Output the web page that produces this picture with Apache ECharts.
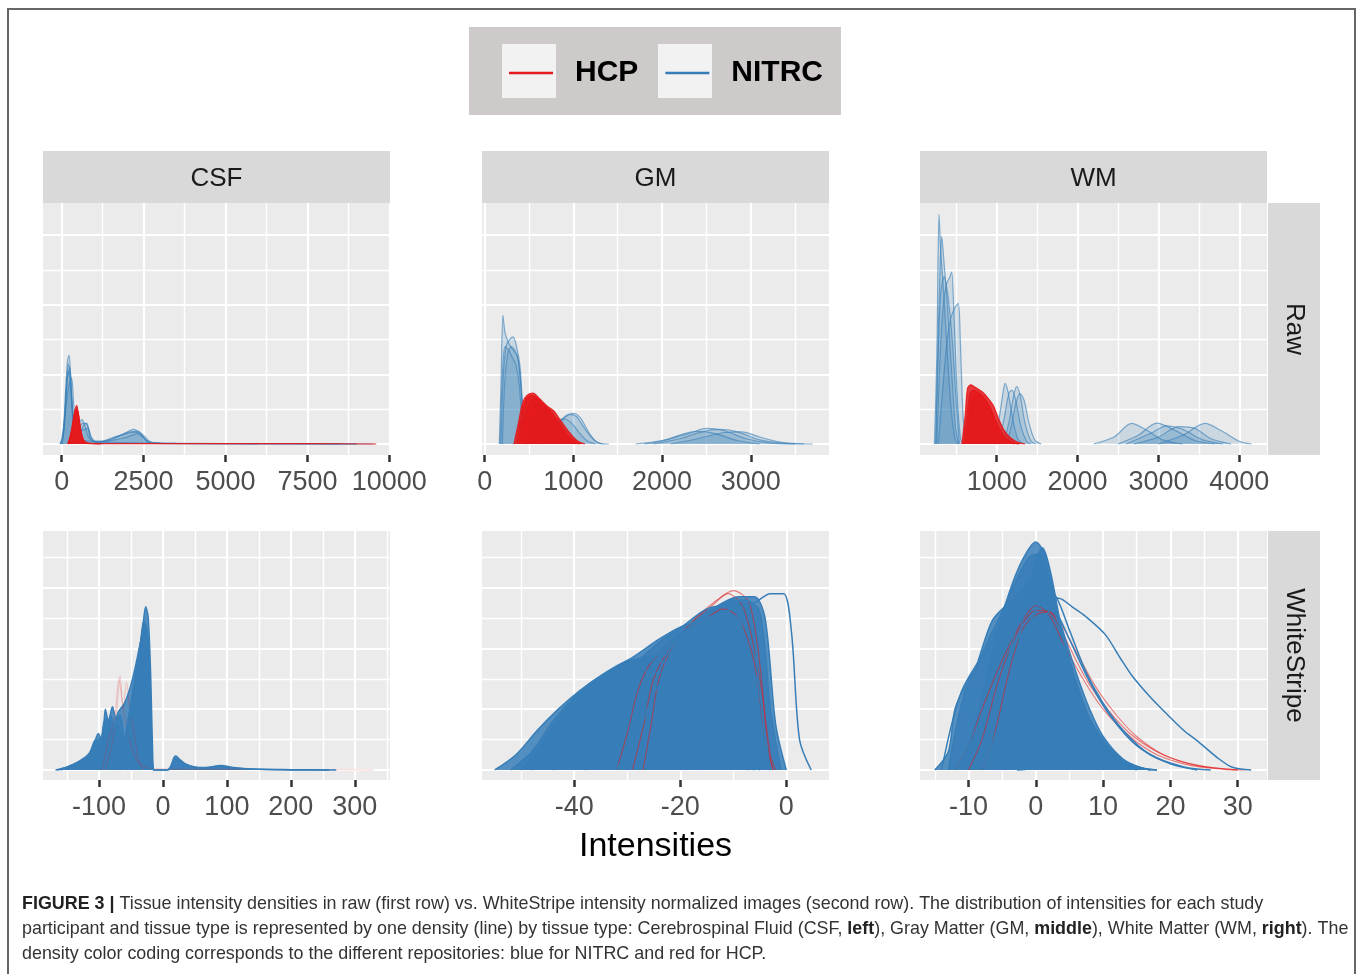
<!DOCTYPE html>
<html>
<head>
<meta charset="utf-8">
<title>Tissue intensity densities</title>
<script src="https://cdn.jsdelivr.net/npm/echarts@6/dist/echarts.min.js"></script>
<style>
  html, body { margin: 0; padding: 0; background: #fff; }
  #chart { width: 1358px; height: 974px; }
</style>
</head>
<body>
<div id="chart"></div>
<script>
// ---- data (y in grid-line units, 0 = density baseline) ----
const tissues = ['CSF', 'GM', 'WM'];
const rowNames = ['Raw', 'WhiteStripe'];

const csfRawTicks = [0, 2500, 5000, 7500, 10000];
const csfRawMinor = [1250, 3750, 6250, 8750];
const gmRawTicks = [0, 1000, 2000, 3000];
const gmRawMinor = [500, 1500, 2500, 3500];
const wmRawTicks = [1000, 2000, 3000, 4000];
const wmRawMinor = [500, 1500, 2500, 3500];
const csfWsTicks = [-100, 0, 100, 200, 300];
const csfWsMinor = [-150, -50, 50, 150, 250, 350];
const gmWsTicks = [-40, -20, 0];
const gmWsMinor = [-50, -30, -10];
const wmWsTicks = [-10, 0, 10, 20, 30];
const wmWsMinor = [-15, -5, 5, 15, 25];

const csfRawNitrc = [
  [[-60,0],[40,0.2],[110,1.4],[180,2.4],[230,2.55],[290,1.5],[360,0.6],[450,0.3],[560,0.35],[680,0.55],[760,0.6],[850,0.35],[950,0.1],[1200,0.08],[1600,0.2],[2000,0.3],[2300,0.38],[2550,0.2],[2750,0.03],[4000,0.02],[6000,0.01],[9500,0]],
  [[-40,0],[60,0.3],[150,1.7],[220,2.1],[280,1.6],[350,0.8],[430,0.5],[520,0.6],[620,0.7],[720,0.5],[820,0.2],[1000,0.06],[1500,0.12],[2100,0.35],[2400,0.3],[2650,0.05],[3500,0.02],[8000,0.01],[9000,0]],
  [[0,0],[80,0.5],[170,1.9],[250,2.2],[320,1.2],[400,0.5],[600,0.4],[800,0.45],[900,0.2],[1100,0.05],[1800,0.25],[2200,0.42],[2450,0.25],[2700,0.02],[5000,0.01],[9000,0]],
  [[-20,0],[100,0.8],[200,1.6],[300,1.9],[380,1.0],[480,0.4],[650,0.6],[780,0.55],[880,0.15],[1100,0.04],[2000,0.2],[2300,0.3],[2600,0.1],[3000,0.02],[7500,0.01],[8500,0]],
  [[20,0],[120,1.2],[200,2.3],[260,2.0],[330,0.8],[420,0.2],[700,0.1],[1500,0.05],[3000,0.02],[6000,0]]
];
const csfRawHcp = [
  [[200,0],[300,0.4],[400,0.95],[460,1.1],[520,0.8],[600,0.3],[700,0.05],[900,0.02],[2000,0.01],[7500,0.01],[9600,0]],
  [[230,0],[330,0.5],[420,0.9],[480,0.95],[540,0.6],[620,0.2],[750,0.03],[1200,0]],
  [[180,0],[290,0.3],[380,0.8],[440,1.0],[500,0.9],[580,0.4],[680,0.1],[850,0]]
];

const gmRawNitrc = [
  [[165,0],[185,1.8],[206,3.7],[230,3.2],[270,2.9],[320,2.7],[370,2.5],[410,1.6],[440,0.4],[470,0]],
  [[185,0],[210,1.9],[240,2.8],[280,3.0],[319,3.08],[360,2.8],[400,2.2],[430,0.9],[455,0.1],[480,0]],
  [[200,0],[225,1.7],[260,2.6],[300,2.8],[340,2.7],[380,2.4],[415,1.5],[445,0.2],[470,0]],
  [[175,0],[200,2.0],[230,2.8],[270,2.7],[310,2.5],[350,2.3],[390,1.7],[420,0.6],[450,0]],
  [[650,0],[750,0.3],[850,0.65],[950,0.85],[1030,0.8],[1100,0.55],[1200,0.2],[1300,0.02],[1400,0]],
  [[700,0],[800,0.4],[900,0.75],[1000,0.88],[1080,0.75],[1170,0.35],[1260,0.06],[1330,0]],
  [[600,0],[700,0.25],[800,0.6],[880,0.72],[960,0.65],[1050,0.38],[1150,0.1],[1250,0]],
  [[1700,0],[2000,0.1],[2300,0.3],[2500,0.45],[2700,0.38],[2950,0.15],[3200,0.03],[3500,0]],
  [[1900,0],[2200,0.15],[2450,0.35],[2650,0.42],[2850,0.35],[3100,0.12],[3400,0.02],[3700,0]],
  [[1800,0],[2050,0.12],[2250,0.3],[2400,0.36],[2600,0.3],[2850,0.1],[3100,0]],
  [[2100,0],[2400,0.15],[2700,0.33],[2900,0.35],[3100,0.2],[3350,0.05],[3600,0]]
];
const gmRawHcp = [
  [[330,0],[380,0.6],[430,1.2],[480,1.4],[545,1.46],[620,1.3],[700,1.1],[780,0.95],[850,0.7],[950,0.35],[1050,0.08],[1130,0]],
  [[360,0],[410,0.7],[460,1.25],[520,1.4],[580,1.35],[660,1.15],[760,0.9],[860,0.55],[960,0.2],[1080,0]],
  [[400,0],[450,0.6],[500,1.1],[560,1.3],[630,1.2],[720,0.95],[820,0.6],[920,0.25],[1020,0]],
  [[440,0],[490,0.5],[540,0.95],[600,1.15],[680,1.05],[780,0.75],[880,0.35],[980,0.08],[1060,0]]
];

const wmRawNitrc = [
  [[230,0],[260,2.5],[287,6.6],[310,5.5],[340,4.5],[380,3.0],[430,1.2],[480,0.2],[520,0]],
  [[245,0],[275,3.0],[300,5.0],[320,5.96],[350,5.2],[390,4.0],[440,2.2],[490,0.5],[530,0]],
  [[260,0],[300,2.5],[340,4.0],[380,4.6],[420,4.8],[444,4.95],[470,3.8],[510,1.5],[550,0.2],[580,0]],
  [[280,0],[330,1.5],[380,2.8],[430,3.6],[480,3.9],[525,4.04],[550,3.0],[580,1.0],[610,0]],
  [[250,0],[280,2.8],[310,4.4],[350,4.8],[400,4.2],[450,3.0],[500,1.2],[540,0]],
  [[950,0],[1020,0.6],[1080,1.5],[1103,1.74],[1140,1.5],[1200,0.7],[1260,0.15],[1320,0]],
  [[1080,0],[1150,0.6],[1210,1.4],[1247,1.65],[1290,1.4],[1350,0.6],[1420,0.1],[1480,0]],
  [[1120,0],[1180,0.5],[1240,1.2],[1290,1.45],[1340,1.25],[1400,0.6],[1470,0.12],[1550,0]],
  [[1020,0],[1090,0.7],[1150,1.45],[1190,1.55],[1240,1.2],[1300,0.5],[1370,0.08],[1420,0]],
  [[2200,0],[2450,0.2],[2669,0.59],[2850,0.4],[3050,0.12],[3300,0]],
  [[2500,0],[2750,0.25],[2978,0.6],[3200,0.4],[3450,0.1],[3700,0]],
  [[2700,0],[3000,0.2],[3250,0.5],[3450,0.45],[3650,0.15],[3900,0]],
  [[3000,0],[3300,0.25],[3575,0.59],[3800,0.35],[4000,0.08],[4150,0]],
  [[2600,0],[2900,0.3],[3100,0.52],[3300,0.42],[3550,0.12],[3800,0]]
];
const wmRawHcp = [
  [[570,0],[610,0.8],[640,1.6],[680,1.7],[740,1.62],[820,1.5],[900,1.3],[960,1.1],[1020,0.75],[1090,0.4],[1170,0.18],[1260,0.05],[1350,0]],
  [[590,0],[630,0.7],[670,1.45],[720,1.55],[790,1.45],[870,1.25],[940,0.95],[1010,0.55],[1090,0.22],[1180,0.06],[1280,0]],
  [[620,0],[660,0.6],[700,1.3],[760,1.45],[830,1.35],[910,1.05],[980,0.7],[1050,0.35],[1130,0.1],[1220,0]]
];

const csfWsNitrc = [
  [[-165,0],[-150,0.08],[-135,0.22],[-120,0.4],[-109,0.77],[-101,1.2],[-95,0.9],[-90,2.0],[-85,1.6],[-79,2.08],[-73,1.7],[-67,1.8],[-62,1.2],[-58,0.4],[-55,0]],
  [[-75,0],[-65,0.5],[-55,1.6],[-45,2.9],[-38,3.8],[-32,4.6],[-27,5.37],[-23,5.0],[-19,3.0],[-16,0.5],[-14,0],[5,0],[12,0.1],[17,0.4],[20,0.46],[26,0.35],[35,0.2],[50,0.1],[70,0.08],[90,0.15],[110,0.08],[140,0.03],[200,0.01],[271,0]],
  [[-70,0],[-60,0.8],[-50,2.0],[-42,3.2],[-35,4.2],[-30,4.9],[-25,4.6],[-21,3.0],[-18,0.8],[-15,0],[8,0],[14,0.2],[19,0.38],[25,0.3],[40,0.15],[60,0.06],[85,0.12],[120,0.05],[180,0.01],[260,0]],
  [[-65,0],[-55,1.0],[-46,2.4],[-38,3.6],[-32,4.3],[-28,4.8],[-24,4.2],[-20,2.0],[-17,0.3],[-15,0]],
  [[-168,0],[-150,0.1],[-130,0.3],[-115,0.55],[-105,1.0],[-98,0.8],[-92,1.6],[-88,1.3],[-82,1.8],[-76,1.5],[-70,1.9],[-60,2.2],[-50,2.8],[-42,3.5],[-35,4.2],[-29,4.6],[-24,4.4],[-20,2.5],[-17,0.4],[-15,0]],
  [[-160,0],[-140,0.15],[-125,0.25],[-112,0.5],[-104,0.9],[-96,1.1],[-88,1.7],[-80,1.3],[-72,1.5],[-64,1.0],[-58,0.3],[-54,0]]
];
const csfWsNitrcEdge = [];
const csfWsHcp = [
  [[-95,0],[-85,1.0],[-75,1.8],[-69,3.0],[-64,2.3],[-58,1.5],[-50,0.8],[-40,0.3],[-20,0.05],[100,0.02],[250,0.01],[330,0]],
  [[-90,0],[-80,0.8],[-72,2.0],[-67,3.1],[-62,2.0],[-57,2.9],[-52,2.0],[-45,1.2],[-38,0.3],[-30,0]]
];

const gmWsNitrc = [
  [[-55,0],[-51,0.5],[-47,1.3],[-43,2.0],[-39,2.6],[-35,3.1],[-31,3.5],[-27,3.7],[-23,3.8],[-19,3.9],[-15,3.8],[-12,3.4],[-10,2.0],[-8,0.4],[-6,0]],
  [[-52,0],[-48,0.6],[-44,1.6],[-40,2.4],[-36,2.9],[-32,3.4],[-29,3.6],[-25,3.6],[-21,3.4],[-17,3.0],[-13,2.6],[-11,2.0],[-9,0.6],[-7,0]],
  [[-48,0],[-45,0.6],[-41,1.6],[-37,2.6],[-33,3.3],[-29,3.7],[-24,4.3],[-20,4.7],[-16,4.9],[-12,5.0],[-9,4.3],[-7,1.5],[-5,0]],
  [[-44,0],[-41,0.8],[-37,2.0],[-33,3.0],[-28,3.6],[-24,4.2],[-19,4.8],[-15,5.3],[-11,5.4],[-8,4.5],[-6,1.5],[-4,0]],
  [[-38,0],[-35,0.8],[-31,2.2],[-27,3.3],[-23,4.0],[-19,4.6],[-14,5.2],[-10,5.6],[-7,5.3],[-5,2.5],[-3,0]],
  [[-32,0],[-29,1.2],[-26,2.8],[-23,3.8],[-19,4.6],[-15,5.2],[-11,5.5],[-8,5.6],[-5,5.2],[-3,2.0],[-1,0]],
  [[-28,0],[-26,1.5],[-24,3.2],[-21,4.2],[-17,4.9],[-13,5.4],[-9,5.7],[-6,5.7],[-4,5.0],[-2,1.5],[0,0]],
  [[-30,0],[-27,1.6],[-24,2.8],[-20,3.0],[-16,3.2],[-12,3.3],[-10,2.6],[-8,0.6],[-6,0]],
  [[-50,0],[-46,0.9],[-42,1.9],[-38,2.7],[-33,3.2],[-28,3.3],[-24,3.2],[-20,3.4],[-14,3.5],[-9,3.4],[-6,2.5],[-4.5,0.5],[-3,0]]
];
const gmWsNitrcEdge = [
  [[-19,0],[-17.5,0.5],[-16,1.6],[-14,1.9],[-11,1.95],[-9,1.9],[-7.5,1.2],[-6,0.2],[-5,0]],
  [[-16,0],[-14.5,1.0],[-13,2.2],[-11,3.0],[-8,3.4],[-5.5,3.0],[-4,1.0],[-3,0]],
  [[-36,0],[-32,1.5],[-28,3.0],[-24,3.9],[-20,4.5],[-15,5.0],[-10,5.3],[-6,5.5],[-3,5.8],[-0.5,5.8],[1,4.5],[2.5,1.0],[4.7,0]]
];
const gmWsHcp = [
  [[-32,0],[-30,1.2],[-28,2.6],[-26,3.4],[-23,4.0],[-19,4.6],[-15,5.0],[-12,5.3],[-9,5.0],[-6,3.5],[-4,1.0],[-2.5,0]],
  [[-29,0],[-27,1.4],[-25,3.0],[-22,4.0],[-18,4.8],[-14,5.4],[-11,5.8],[-8,5.3],[-5,3.0],[-3,0.5],[-2,0]],
  [[-27,0],[-25.5,1.5],[-24,3.0],[-21,4.2],[-17,5.0],[-13,5.6],[-10,5.9],[-7,5.5],[-5,3.5],[-3.5,0.8],[-2.5,0]]
];

const wmWsNitrc = [
  [[-12,0],[-10,0.8],[-8,2.4],[-6,4.3],[-4,5.8],[-2,6.9],[0,7.5],[1.5,7.0],[3,5.4],[5,3.6],[7,2.2],[9,1.2],[12,0.4],[15,0.1],[18,0]],
  [[-15,0],[-13,0.6],[-12,2.0],[-10,3.0],[-9,3.3],[-7,4.3],[-5,5.2],[-3,6.2],[-1,7.0],[0.5,7.1],[2,6.2],[4,4.4],[6,2.9],[8,1.7],[11,0.7],[14,0.2],[17,0]],
  [[-13,0],[-12,1.2],[-10.5,2.6],[-9,3.3],[-6.5,4.9],[-4,5.5],[-2,5.9],[0,6.4],[2,6.0],[4,4.6],[6,3.2],[8,2.0],[10,1.1],[13,0.35],[16,0.05],[18,0]],
  [[-2.8,0],[-1,0.05],[0,0.6],[0.8,2.5],[1.4,4.77],[2.2,5.3],[3,5.1],[4.5,4.0],[6,2.9],[8,1.7],[11,0.7],[14,0.2],[17,0]],
  [[-6,0],[-4.5,1.2],[-3,3.5],[-1.5,5.5],[0,6.9],[1,7.3],[2.2,6.5],[3.5,5.0],[5,3.4],[7,2.0],[9.5,0.9],[12,0.3],[15,0]]
];
const wmWsNitrcEdge = [
  [[-5,0],[-3.5,1.5],[-2,3.8],[0,5.3],[2,5.6],[3.4,5.65],[5.5,5.35],[7.3,5.07],[10.3,4.46],[12.5,3.7],[14.3,3.1],[17,2.4],[19.2,1.9],[22,1.3],[24.1,0.94],[27,0.4],[29.1,0.1],[32,0]],
  [[-8,0],[-6.5,1.0],[-5,2.8],[-3,4.6],[-1,5.6],[1,6.1],[3,5.7],[5,4.6],[7.5,3.2],[10,2.2],[13,1.3],[17,0.5],[22,0.1],[26,0]],
  [[-14,0],[-12.5,1.5],[-11,2.6],[-9,3.4],[-7,4.0],[-5,4.9],[-3,5.3],[-1,5.5],[1,5.6],[3,5.2],[5,4.3],[8,2.9],[11,1.8],[15,0.8],[20,0.2],[24,0]]
];
const wmWsHcp = [
  [[-10,0],[-8,1.0],[-6,2.6],[-4,3.9],[-2,4.8],[0,5.25],[2,5.2],[4,4.5],[6,3.6],[8,2.8],[11,1.9],[14,1.2],[18,0.6],[22,0.25],[26,0.08],[30,0]],
  [[-12,0],[-10,0.8],[-8,2.0],[-5,3.6],[-2,4.9],[0,5.4],[2,5.1],[4,4.2],[7,3.0],[10,2.0],[14,1.1],[18,0.5],[23,0.15],[28,0.02],[30,0]],
  [[-8,0],[-6,1.3],[-4,3.2],[-2,4.6],[0,5.1],[2,5.2],[4,4.7],[6,3.9],[9,2.7],[12,1.8],[15,1.1],[19,0.5],[24,0.15],[29,0.02],[31,0]]
];

const captionLines = [
  '{b|FIGURE 3 |} Tissue intensity densities in raw (first row) vs. WhiteStripe intensity normalized images (second row). The distribution of intensities for each study',
  'participant and tissue type is represented by one density (line) by tissue type: Cerebrospinal Fluid (CSF, {b|left}), Gray Matter (GM, {b|middle}), White Matter (WM, {b|right}). The',
  'density color coding corresponds to the different repositories: blue for NITRC and red for HCP.'
];

// ---- layout ----
const FONT = '"Liberation Sans", Arial, Helvetica, sans-serif';
const RED = '#e41a1c';
const BLUE = '#377eb8';
const colLeft = [43, 482, 920];
const colWidth = 347;
const rowTop = [203, 531];
const rowHeight = [252, 249];
const rowYRange = [[-0.316, 6.925], [-0.33, 7.86]];
const rowYMajor = [[0, 2, 4, 6], [0, 2, 4, 6]];
const rowYMinor = [[1, 3, 5], [1, 3, 5, 7]];

// one entry per panel, row-major
const panelDefs = [
  { range: [-570, 10020], ticks: csfRawTicks, minor: csfRawMinor, nitrc: csfRawNitrc, edge: [], hcp: csfRawHcp },
  { range: [-30, 3882], ticks: gmRawTicks, minor: gmRawMinor, nitrc: gmRawNitrc, edge: [], hcp: gmRawHcp },
  { range: [52, 4342], ticks: wmRawTicks, minor: wmRawMinor, nitrc: wmRawNitrc, edge: [], hcp: wmRawHcp },
  { range: [-187.5, 355], ticks: csfWsTicks, minor: csfWsMinor, nitrc: csfWsNitrc, edge: csfWsNitrcEdge, hcp: csfWsHcp },
  { range: [-57.4, 8.06], ticks: gmWsTicks, minor: gmWsMinor, nitrc: gmWsNitrc, edge: gmWsNitrcEdge, hcp: gmWsHcp },
  { range: [-17.2, 34.35], ticks: wmWsTicks, minor: wmWsMinor, nitrc: wmWsNitrc, edge: wmWsNitrcEdge, hcp: wmWsHcp }
];

const grids = [], xAxes = [], yAxes = [], series = [];
const hiddenAxis = (extra) => Object.assign({
  type: 'value', axisLine: { show: false, onZero: false }, axisLabel: { show: false }
}, extra);

panelDefs.forEach((pd, p) => {
  const row = Math.floor(p / 3), col = p % 3;
  grids.push({
    left: colLeft[col], top: rowTop[row], width: colWidth, height: rowHeight[row],
    show: true, backgroundColor: '#ebebeb', borderWidth: 0, outerBoundsMode: 'none'
  });

  // major x axis: ticks, labels and major grid lines
  xAxes.push({
    type: 'value', gridIndex: p, position: 'bottom', min: pd.range[0], max: pd.range[1],
    axisLine: { show: false, onZero: false },
    axisTick: { show: true, customValues: pd.ticks, length: 7, lineStyle: { color: '#333', width: 2.5 } },
    axisLabel: { show: true, customValues: pd.ticks, formatter: v => String(v),
      color: '#4d4d4d', fontSize: 27, margin: 14, fontFamily: FONT },
    splitLine: { show: true, lineStyle: { color: '#ffffff', width: 2.2 } },
    name: p === 4 ? 'Intensities' : '',
    nameLocation: 'middle', nameGap: 50,
    nameTextStyle: { fontSize: 34, color: '#000', fontFamily: FONT }
  });
  // minor x axis: only the thinner grid lines
  xAxes.push(hiddenAxis({
    gridIndex: p, position: 'top', min: pd.range[0], max: pd.range[1],
    axisTick: { show: false, customValues: pd.minor },
    splitLine: { show: true, lineStyle: { color: '#ffffff', width: 1.4 } }
  }));
  yAxes.push(hiddenAxis({
    gridIndex: p, min: rowYRange[row][0], max: rowYRange[row][1],
    axisTick: { show: false, customValues: rowYMajor[row] },
    splitLine: { show: true, lineStyle: { color: '#ffffff', width: 2.2 } }
  }));
  yAxes.push(hiddenAxis({
    gridIndex: p, min: rowYRange[row][0], max: rowYRange[row][1],
    axisTick: { show: false, customValues: rowYMinor[row] },
    splitLine: { show: true, lineStyle: { color: '#ffffff', width: 1.4 } }
  }));

  const addCurves = (curves, name, color, st) => {
    curves.forEach(c => {
      const s = {
        type: 'line', name, xAxisIndex: p * 2, yAxisIndex: p * 2, data: c,
        smooth: 0.3, symbol: 'none', silent: true, z: st.z,
        itemStyle: { color },
        lineStyle: { color, width: st.width, opacity: st.line }
      };
      if (st.area) s.areaStyle = { color, opacity: st.area };
      series.push(s);
    });
  };

  if (row === 0) {
    addCurves(pd.nitrc, 'NITRC', BLUE, { width: 1.2, line: 0.6, area: 0.18, z: 2 });
    addCurves(pd.hcp, 'HCP', RED, { width: 1.2, line: 0.9, area: 0.85, z: 3 });
  } else {
    // dense bundle: filled core, red lines, then blue outlines and stray curves on top
    addCurves(pd.nitrc, 'NITRC', BLUE, { width: 1.5, line: 0, area: 0.85, z: 2 });
    addCurves(pd.hcp, 'HCP', RED, { width: 1.1, line: p === 3 ? 0.2 : 0.55, z: 3 });
    addCurves(pd.nitrc, 'NITRC', BLUE, { width: 1.5, line: 1, z: 4 });
    addCurves(pd.edge, 'NITRC', BLUE, { width: 1.5, line: 1, z: 4 });
  }
});

// facet strips, legend key boxes and frame
const stripFill = '#d9d9d9';
const stripFont = '26px ' + FONT;
const graphics = [
  { type: 'polyline', shape: { points: [[8, 974], [8, 9], [1355, 9], [1355, 974]] },
    style: { stroke: '#666', lineWidth: 2, fill: null } },
  { type: 'rect', shape: { x: 469, y: 27, width: 372, height: 88 }, style: { fill: '#cdcac9' } },
  { type: 'rect', shape: { x: 502, y: 44, width: 54, height: 54 }, style: { fill: '#f2f2f2' } },
  { type: 'rect', shape: { x: 658, y: 44, width: 54, height: 54 }, style: { fill: '#f2f2f2' } }
];
tissues.forEach((t, i) => {
  graphics.push({ type: 'rect', shape: { x: colLeft[i], y: 151, width: colWidth, height: 52 }, style: { fill: stripFill } });
  graphics.push({ type: 'text', x: colLeft[i] + colWidth / 2, y: 179,
    style: { text: t, font: stripFont, fill: '#1a1a1a', textAlign: 'center', textVerticalAlign: 'middle' } });
});
rowNames.forEach((r, i) => {
  graphics.push({ type: 'rect', shape: { x: 1268, y: rowTop[i], width: 52, height: rowHeight[i] }, style: { fill: stripFill } });
  graphics.push({ type: 'text', x: 1294, y: rowTop[i] + rowHeight[i] / 2, rotation: -Math.PI / 2,
    style: { text: r, font: stripFont, fill: '#1a1a1a', textAlign: 'center', textVerticalAlign: 'middle' } });
});

const option = {
  animation: false,
  textStyle: { fontFamily: FONT },
  title: {
    left: 17, top: 887,
    text: captionLines.join('\n'),
    textStyle: {
      fontSize: 17.9, fontWeight: 'normal', color: '#333', lineHeight: 25, fontFamily: FONT,
      rich: { b: { fontSize: 17.9, fontWeight: 'bold', color: '#222', lineHeight: 25, fontFamily: FONT } }
    }
  },
  legend: {
    left: 509, top: 55, padding: 0, itemGap: 27,
    icon: 'rect', itemWidth: 44, itemHeight: 2.5,
    selectedMode: false,
    data: [
      { name: 'HCP', itemStyle: { color: RED, opacity: 1 } },
      { name: 'NITRC', itemStyle: { color: BLUE, opacity: 1 } }
    ],
    textStyle: { fontSize: 30, fontWeight: 'bold', color: '#000', lineHeight: 36, padding: [0, 0, 0, 17], fontFamily: FONT }
  },
  grid: grids,
  xAxis: xAxes,
  yAxis: yAxes,
  graphic: { elements: graphics },
  series
};

const chart = echarts.init(document.getElementById('chart'), null, { renderer: 'canvas' });
chart.setOption(option);
</script>
</body>
</html>
